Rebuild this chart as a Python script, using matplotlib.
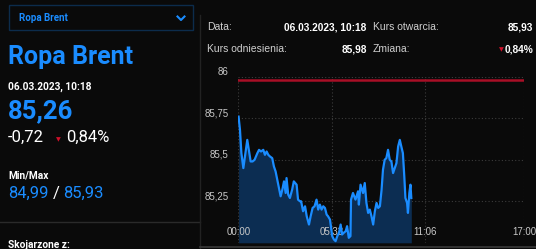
import matplotlib.pyplot as plt
from matplotlib.lines import Line2D
from matplotlib.patches import Rectangle

plt.rcParams['font.family'] = ['Roboto', 'DejaVu Sans']

# dane notowania (minuty od 00:00, kurs)
minutes = [1, 6, 11, 18, 32, 44, 51, 58, 68, 74, 81, 89, 95, 101, 107, 113, 121, 127,
           133, 139, 145, 151, 157, 163, 169, 172, 178, 184, 192, 198, 208, 213, 220,
           224, 231, 238, 244, 252, 258, 265, 272, 279, 285, 291, 297, 303, 309, 315,
           320, 327, 331, 335, 341, 347, 353, 359, 365, 370, 376, 383, 388, 394, 400,
           402, 409, 418, 427, 430, 436, 445, 451, 457, 463, 469, 475, 481, 487, 493,
           499, 505, 511, 516, 522, 528, 534, 540, 546, 552, 558, 564, 570, 576, 580,
           587, 592, 596, 602, 605, 610, 614, 617]
prices = [85.76, 85.68, 85.54, 85.45, 85.62, 85.49, 85.49, 85.50, 85.54, 85.56, 85.55,
          85.56, 85.53, 85.55, 85.53, 85.52, 85.51, 85.46, 85.43, 85.38, 85.33, 85.28,
          85.32, 85.37, 85.30, 85.39, 85.29, 85.27, 85.32, 85.37, 85.35, 85.26, 85.25,
          85.25, 85.19, 85.22, 85.16, 85.11, 85.16, 85.21, 85.22, 85.26, 85.20, 85.23,
          85.20, 85.22, 85.21, 85.17, 85.16, 85.14, 85.09, 85.04, 85.02, 85.01, 85.04,
          85.06, 85.11, 85.05, 85.06, 85.07, 85.10, 85.03, 85.04, 85.26, 85.30, 85.26,
          85.31, 85.23, 85.35, 85.30, 85.36, 85.24, 85.18, 85.20, 85.16, 85.11, 85.19,
          85.24, 85.21, 85.22, 85.32, 85.44, 85.50, 85.51, 85.56, 85.50, 85.49, 85.42,
          85.45, 85.48, 85.58, 85.62, 85.59, 85.54, 85.40, 85.27, 85.24, 85.18, 85.30,
          85.35, 85.27]
reference = 85.98
y_ticks = [85.25, 85.5, 85.75, 86]
y_labels = ['85,25', '85,5', '85,75', '86']
x_ticks = [0, 333, 666, 1020]
x_labels = ['00:00', '05:33', '11:06', '17:00']

BG = '#0a0a0a'
BLUE = '#1a8cff'
W, H = 536, 249
ARIAL = ['Liberation Sans', 'DejaVu Sans']

fig = plt.figure(figsize=(W / 100, H / 100), dpi=100, facecolor=BG)


def px(x, y):
    return x / W, 1 - y / H


def label(x, y, s, **kw):
    fig.text(*px(x, y), s, va='baseline', **kw)


# lewy panel
fig.add_artist(Rectangle(px(8.5, 30), 184.5 / W, 25 / H, transform=fig.transFigure,
                         fill=False, edgecolor='#0c2c4c', lw=1))
label(19, 21, 'Ropa Brent', color=BLUE, fontsize=7, fontweight='bold')
cx, cy = px(181, 18.5)
fig.add_artist(Line2D([cx - 3.5 / W, cx, cx + 3.5 / W], [cy + 2 / H, cy - 1.5 / H, cy + 2 / H],
                      transform=fig.transFigure, color=BLUE, lw=1.5))
label(8, 63.5, 'Ropa Brent', color=BLUE, fontsize=18, fontweight='bold')
label(8, 90, '06.03.2023, 10:18', color='white', fontsize=7.3, fontweight='bold')
label(8, 118, '85,26', color=BLUE, fontsize=18.5, fontweight='bold')
label(8, 142, '-0,72', color='white', fontsize=12)
label(56, 141, '\u25BC', color='#d0102a', fontsize=4.5)
label(66, 142, '0,84%', color='white', fontsize=12)
label(8, 178.5, 'Min/Max', color='white', fontsize=7.3, fontweight='bold')
label(8, 198, '84,99', color=BLUE, fontsize=12)
label(53, 198, '/', color='white', fontsize=12)
label(63, 198, '85,93', color=BLUE, fontsize=12)
fig.add_artist(Line2D([0, 200 / W], [1 - 221.7 / H] * 2, transform=fig.transFigure,
                      color='#2a2a2a', lw=1))
label(8, 248, 'Skojarzone z:', color='white', fontsize=7.3, fontweight='bold')
fig.add_artist(Line2D([200 / W] * 2, [0, 1 - 15 / H], transform=fig.transFigure,
                      color='#222222', lw=1))
fig.add_artist(Line2D([200 / W, 1], [1 - 247 / H] * 2, transform=fig.transFigure,
                      color='#3a3a3a', lw=1.2))

# prawy panel - tabela
grey = '#d0d0d0'
label(207, 30, 'Data:', color=grey, fontsize=7.5, family=ARIAL)
label(366.5, 30, '06.03.2023, 10:18', color='white', fontsize=7.3, fontweight='bold',
      ha='right', family=ARIAL)
label(373, 30, 'Kurs otwarcia:', color=grey, fontsize=7.5, family=ARIAL)
label(533, 30, '85,93', color='white', fontsize=7.3, fontweight='bold', ha='right', family=ARIAL)
label(207, 52.5, 'Kurs odniesienia:', color=grey, fontsize=7.5, family=ARIAL)
label(366.5, 52.5, '85,98', color='white', fontsize=7.3, fontweight='bold', ha='right',
      family=ARIAL)
label(373, 52.5, 'Zmiana:', color=grey, fontsize=7.5, family=ARIAL)
label(499, 51.5, '\u25BC', color='#d0102a', fontsize=4.5)
label(533, 52.5, '0,84%', color='white', fontsize=7.3, fontweight='bold', ha='right', family=ARIAL)

# wykres
ax = fig.add_axes([238.3 / W, 1 - 242.8 / H, 286 / W, 166 / H])
ax.set_facecolor(BG)
ax.set_xlim(0, 1020)
ax.set_ylim(85.0, 86.0)
ax.fill_between(minutes, prices, 85.0, color='#0c2d52', lw=0, zorder=1)
ax.plot(minutes, prices, color=BLUE, lw=1.6, zorder=3)
ax.axhline(reference, color='#a80f26', lw=1.8, zorder=3)
for v in y_ticks:
    ax.axhline(v, color='#3c3c3c', lw=0.8, ls=(0, (1, 2)), zorder=0)
for t in x_ticks:
    ax.axvline(t, color='#3c3c3c', lw=0.8, ls=(0, (1, 2)), zorder=0)
for t, s in zip(x_ticks, x_labels):
    ax.text(t, 0.035, s, transform=ax.get_xaxis_transform(), ha='center', va='bottom',
            color='#c8c8c8', fontsize=7, family=ARIAL, zorder=2)
ax.set_xticks([])
ax.set_yticks(y_ticks)
ax.set_yticklabels(y_labels, family=ARIAL)
ax.tick_params(axis='y', length=0, pad=7, labelcolor='#c8c8c8', labelsize=7)
for lbl in ax.get_yticklabels():
    lbl.set_va('bottom')
for sp in ax.spines.values():
    sp.set_visible(False)

fig.savefig('out.png', dpi=100, facecolor=BG)
